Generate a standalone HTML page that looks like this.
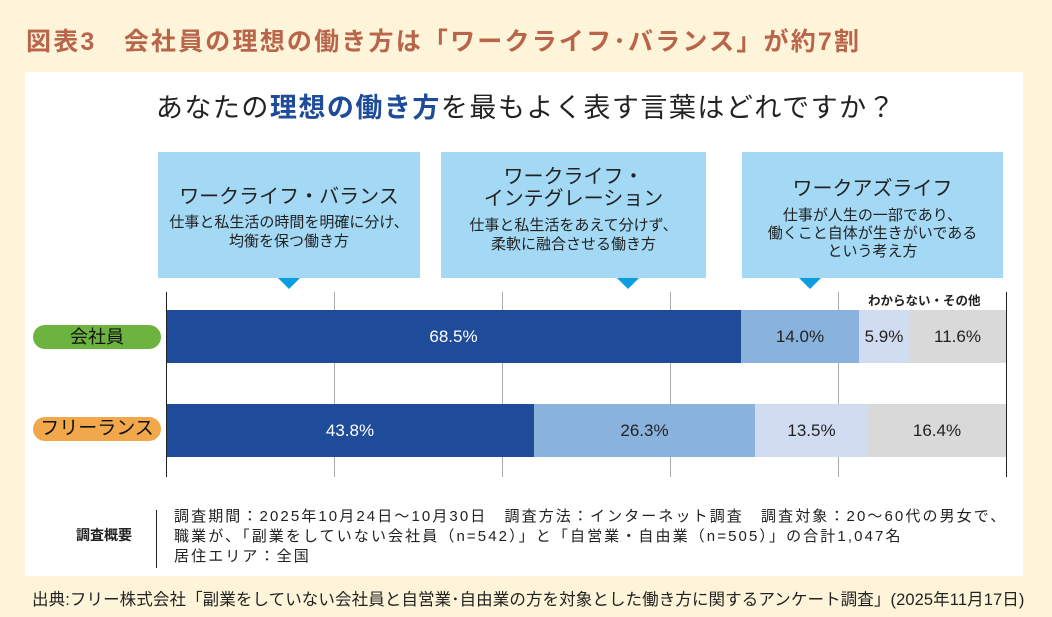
<!DOCTYPE html>
<html><head><meta charset="utf-8"><style>
body{margin:0;width:1052px;height:617px;background:#fdf4d9;position:relative;overflow:hidden;font-family:"Liberation Sans","Noto Sans CJK JP",sans-serif;}
.a{position:absolute;}
.panel{left:25px;top:72px;width:998px;height:504px;background:#fff;}
.box{background:#a3d9f5;top:152px;height:126px;text-align:center;color:#222;}
.tri{top:278px;width:0;height:0;border-left:11px solid transparent;border-right:11px solid transparent;border-top:11px solid #0a9de0;}
.grid{top:292px;height:185px;width:1px;background:#aaa;}
.bar{height:53px;color:#222;font-size:17px;display:flex;align-items:center;justify-content:center;}
.pill{left:33px;width:128px;height:24px;border-radius:12px;font-size:18px;text-align:center;line-height:24px;color:#111;}
</style></head><body>
<div class="a" style="left:26px;top:22px;font-size:25px;font-weight:bold;color:#b9654a;letter-spacing:2.2px;white-space:nowrap;">図表3　会社員の理想の働き方は「ワークライフ･バランス」が約7割</div>
<div class="a panel"></div>
<div class="a" style="left:0;width:1052px;top:86px;text-align:center;font-size:27px;color:#222;letter-spacing:1.5px;">あなたの<b style="color:#1e4c9a">理想の働き方</b>を最もよく表す言葉はどれですか？</div>

<div class="a box" style="left:158px;width:262px;"><div style="margin-top:28px;font-size:20px;">ワークライフ・バランス</div><div style="font-size:15px;line-height:19px;margin-top:4px;">仕事と私生活の時間を明確に分け、<br>均衡を保つ働き方</div></div>
<div class="a box" style="left:441px;width:265px;"><div style="margin-top:14px;font-size:20px;line-height:22px;">ワークライフ・<br>インテグレーション</div><div style="font-size:15px;line-height:19px;margin-top:6px;">仕事と私生活をあえて分けず、<br>柔軟に融合させる働き方</div></div>
<div class="a box" style="left:742px;width:261px;"><div style="margin-top:20px;font-size:20px;">ワークアズライフ</div><div style="font-size:15px;line-height:18px;margin-top:6px;">仕事が人生の一部であり、<br>働くこと自体が生きがいである<br>という考え方</div></div>
<div class="a tri" style="left:278px;"></div>
<div class="a tri" style="left:617px;"></div>
<div class="a tri" style="left:799px;"></div>

<div class="a grid" style="left:334px"></div>
<div class="a grid" style="left:502px"></div>
<div class="a grid" style="left:670px"></div>
<div class="a grid" style="left:838px"></div>
<div class="a" style="left:868px;top:290px;font-size:12.5px;color:#222;font-weight:bold;">わからない・その他</div>

<div class="a bar" style="left:166px;top:310px;width:575px;background:#1e4c9a;color:#fff;">68.5%</div>
<div class="a bar" style="left:741px;top:310px;width:118px;background:#89b2dc;">14.0%</div>
<div class="a bar" style="left:859px;top:310px;width:50px;background:#d0ddf0;">5.9%</div>
<div class="a bar" style="left:909px;top:310px;width:97px;background:#d9d9d9;">11.6%</div>

<div class="a bar" style="left:166px;top:404px;width:368px;background:#1e4c9a;color:#fff;">43.8%</div>
<div class="a bar" style="left:534px;top:404px;width:221px;background:#89b2dc;">26.3%</div>
<div class="a bar" style="left:755px;top:404px;width:113px;background:#d0ddf0;">13.5%</div>
<div class="a bar" style="left:868px;top:404px;width:138px;background:#d9d9d9;">16.4%</div>

<div class="a" style="left:166px;top:292px;width:1px;height:185px;background:#222;"></div>
<div class="a" style="left:1006px;top:292px;width:1px;height:185px;background:#222;"></div>

<div class="a pill" style="top:325px;background:#6db33f;">会社員</div>
<div class="a pill" style="top:417px;background:#f0a84a;font-size:19px;">フリーランス</div>

<div class="a" style="left:76px;top:525px;font-size:14px;color:#222;font-weight:bold;">調査概要</div>
<div class="a" style="left:156px;top:510px;width:1px;height:58px;background:#222;"></div>
<div class="a" style="left:174px;top:507px;font-size:15px;line-height:20px;color:#222;white-space:nowrap;letter-spacing:2.1px;">調査期間：2025年10月24日～10月30日　調査方法：インターネット調査　調査対象：20～60代の男女で、<br>職業が、「副業をしていない会社員（n=542）」と「自営業・自由業（n=505）」の合計1,047名<br>居住エリア：全国</div>
<div class="a" style="left:32px;top:586px;font-size:16.5px;color:#222;white-space:nowrap;letter-spacing:0.1px;">出典:フリー株式会社「副業をしていない会社員と自営業･自由業の方を対象とした働き方に関するアンケート調査」(2025年11月17日)</div>
</body></html>
